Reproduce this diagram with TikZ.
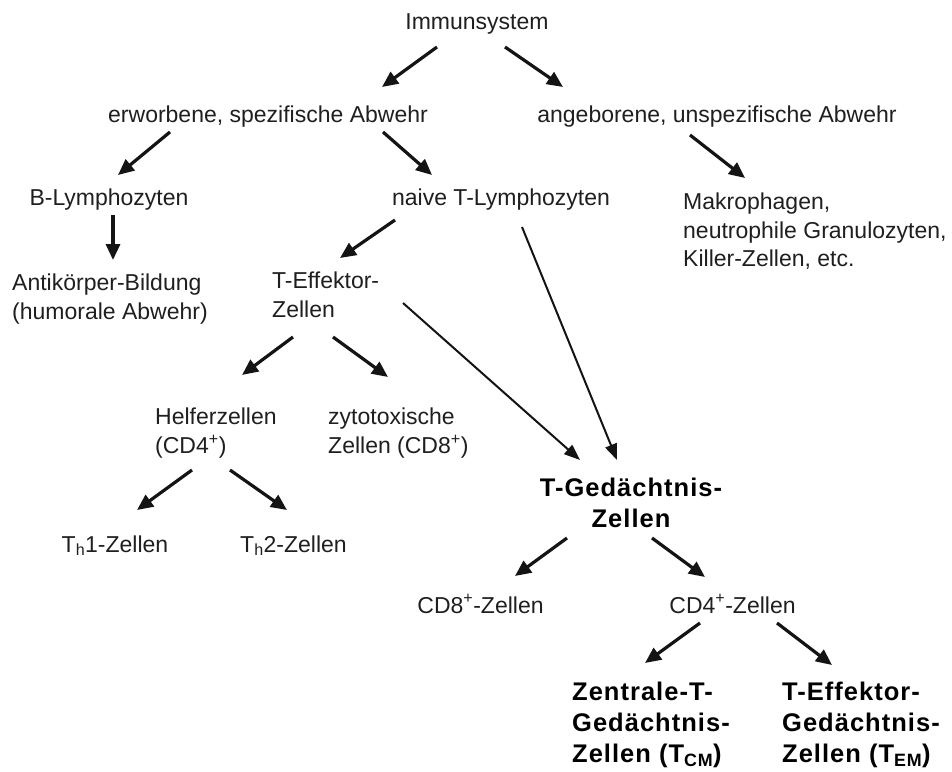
\documentclass[tikz,border=0pt]{standalone}
\usepackage{fontspec}
\setmainfont{Liberation Sans}
\newfontfamily\boldfam{Liberation Sans}[LetterSpace=4]
\usetikzlibrary{arrows.meta,calc}
\tikzset{
  lbl/.style={inner sep=0pt, font=\fontsize{23}{28.5}\selectfont, text=black!88},
  mlbl/.style={lbl, align=left},
  blbl/.style={inner sep=0pt, font=\boldfam\bfseries\fontsize{25.5}{31}\selectfont, text=black, align=left},
  arr/.style={line width=3.2pt, black!92, -{Triangle[length=16pt,width=14pt]}},
  thinarr/.style={line width=2pt, black!92, -{Triangle[length=16pt,width=12pt]}},
}
\begin{document}
\begin{tikzpicture}[x=1pt,y=-1pt]
\useasboundingbox[fill=white] (0,0) rectangle (952,771);

% nodes
\node[lbl, anchor=base] (imm) at (477,29) {Immunsystem};
\node[lbl, anchor=base] (erw) at (268,122) {erworbene, spezifische Abwehr};
\node[lbl, anchor=base] (ang) at (717,122) {angeborene, unspezifische Abwehr};
\node[lbl, anchor=base] (blym) at (109,205) {B-Lymphozyten};
\node[mlbl, anchor=north west] (anti) at (12,274) {Antikörper-Bildung\\(humorale Abwehr)};
\node[lbl, anchor=base] (naive) at (501,205) {naive T-Lymphozyten};
\node[mlbl, anchor=north west] (makro) at (683,193) {Makrophagen,\\neutrophile Granulozyten,\\Killer-Zellen, etc.};
\node[mlbl, anchor=north west] (teff) at (272,272) {T-Effektor-\\Zellen};
\node[mlbl, anchor=north west] (helfer) at (155,408) {Helferzellen\\(CD4\textsuperscript{+})};
\node[mlbl, anchor=north west] (zyto) at (328,408) {zytotoxische\\Zellen (CD8\textsuperscript{+})};
\node[lbl, anchor=base] (th1) at (115,552) {T\textsubscript{h}1-Zellen};
\node[lbl, anchor=base] (th2) at (293.5,552) {T\textsubscript{h}2-Zellen};
\node[blbl, align=center, anchor=north] (tged) at (631,478) {T-Gedächtnis-\\Zellen};
\node[lbl, anchor=base] (cd8) at (480.5,613) {CD8\textsuperscript{+}-Zellen};
\node[lbl, anchor=base] (cd4) at (732.5,613) {CD4\textsuperscript{+}-Zellen};
\node[blbl, anchor=north west] (tcm) at (572,682) {Zentrale-T-\\Gedächtnis-\\Zellen (T\textsubscript{CM})};
\node[blbl, anchor=north west] (tem) at (782,682) {T-Effektor-\\Gedächtnis-\\Zellen (T\textsubscript{EM})};

% connectors
\draw[arr] ($(imm.base)+(-40,18)$) -- ($(erw.base)+(114,-35)$);
\draw[arr] ($(imm.base)+(28,18)$) -- ($(ang.base)+(-154,-35)$);
\draw[arr] ($(erw.base)+(-98,10)$) -- ($(blym.base)+(9,-30)$);
\draw[arr] ($(erw.base)+(115,10)$) -- ($(naive.base)+(-69,-30)$);
\draw[arr] ($(ang.base)+(-27,13)$) -- ($(makro.north west)+(62,-15)$);
\draw[arr] ($(blym.base)+(4,10)$) -- ($(anti.north west)+(101,-14)$);
\draw[arr] ($(naive.base)+(-106,15)$) -- ($(teff.north west)+(68,-14)$);
\draw[thinarr] ($(naive.base)+(21,22)$) -- ($(tged.north)+(-14,-18)$);
\draw[arr] ($(teff.north west)+(21,65)$) -- ($(helfer.north west)+(87,-33)$);
\draw[arr] ($(teff.north west)+(61,65)$) -- ($(zyto.north west)+(60,-31)$);
\draw[thinarr] ($(teff.north west)+(131,31)$) -- ($(tged.north)+(-51,-18)$);
\draw[arr] ($(helfer.north west)+(37,62)$) -- ($(th1.base)+(22,-42)$);
\draw[arr] ($(helfer.north west)+(75,62)$) -- ($(th2.base)+(-6.5,-42)$);
\draw[arr] ($(tged.north)+(-64,60)$) -- ($(cd8.base)+(34.5,-37)$);
\draw[arr] ($(tged.north)+(21,60)$) -- ($(cd4.base)+(-27.5,-36)$);
\draw[arr] ($(cd4.base)+(-32.5,10)$) -- ($(tcm.north west)+(73,-19)$);
\draw[arr] ($(cd4.base)+(44.5,10)$) -- ($(tem.north west)+(50,-17)$);
\end{tikzpicture}
\end{document}
